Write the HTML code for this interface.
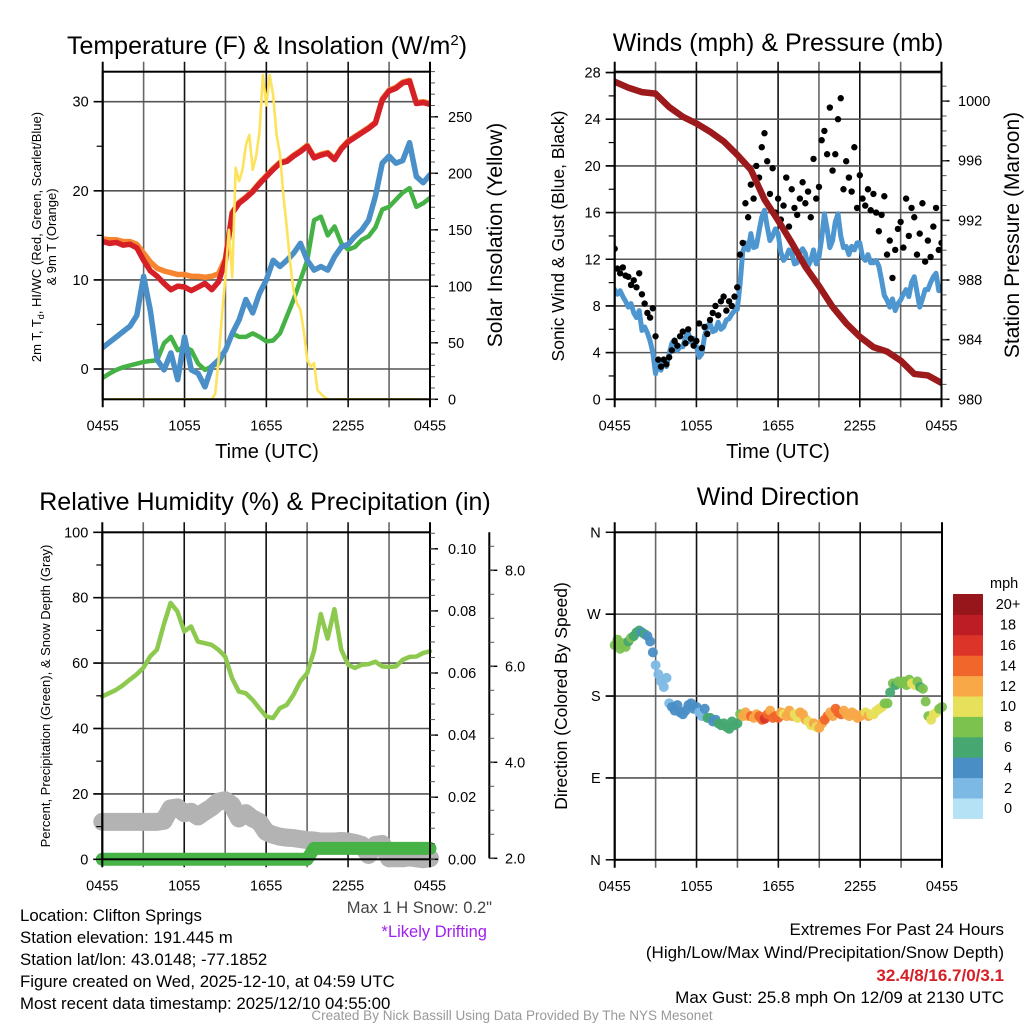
<!DOCTYPE html>
<html><head><meta charset="utf-8"><title>Mesonet Station Meteogram</title>
<style>
html,body{margin:0;padding:0;background:#fff;}
svg{display:block;font-family:"Liberation Sans",Arial,sans-serif;}
</style></head>
<body>
<svg id="chart" width="1024" height="1024" viewBox="0 0 1024 1024" xmlns="http://www.w3.org/2000/svg">
<rect x="0" y="0" width="1024" height="1024" fill="#fff"/>
<text x="267" y="54" font-size="25" text-anchor="middle">Temperature (F) &amp; Insolation (W/m<tspan dy="-9" font-size="15">2</tspan><tspan dy="9">)</tspan></text>
<text x="778" y="51" font-size="25" text-anchor="middle">Winds (mph) &amp; Pressure (mb)</text>
<text x="265" y="510" font-size="25" text-anchor="middle">Relative Humidity (%) &amp; Precipitation (in)</text>
<text x="778" y="505" font-size="25" text-anchor="middle">Wind Direction</text>

<text transform="translate(41,237) rotate(-90)" font-size="13" text-anchor="middle">2m T, T<tspan font-size="9" dy="3">d</tspan><tspan dy="-3">, HI/WC (Red, Green, Scarlet/Blue)</tspan></text>
<text transform="translate(56,237) rotate(-90)" font-size="13" text-anchor="middle">&amp; 9m T (Orange)</text>
<text transform="translate(502,235) rotate(-90)" font-size="21" text-anchor="middle">Solar Insolation (Yellow)</text>
<text transform="translate(564,236) rotate(-90)" font-size="17.5" text-anchor="middle">Sonic Wind &amp; Gust (Blue, Black)</text>
<text transform="translate(1019,235) rotate(-90)" font-size="21" text-anchor="middle">Station Pressure (Maroon)</text>
<text transform="translate(50,696) rotate(-90)" font-size="13" text-anchor="middle">Percent, Precipitation (Green), &amp; Snow Depth (Gray)</text>
<text transform="translate(567,696) rotate(-90)" font-size="17.5" text-anchor="middle">Direction (Colored By Speed)</text>

<text x="267" y="458" font-size="20" text-anchor="middle">Time (UTC)</text>
<text x="778" y="458" font-size="20" text-anchor="middle">Time (UTC)</text>

<text x="492" y="913" font-size="16.5" text-anchor="end" fill="#444">Max 1 H Snow: 0.2"</text>
<text x="487" y="937" font-size="16.5" text-anchor="end" fill="#a020f0">*Likely Drifting</text>

<g font-size="16.8" fill="#000">
<text x="20" y="921">Location: Clifton Springs</text>
<text x="20" y="943">Station elevation: 191.445 m</text>
<text x="20" y="965">Station lat/lon: 43.0148; -77.1852</text>
<text x="20" y="987">Figure created on Wed, 2025-12-10, at 04:59 UTC</text>
<text x="20" y="1009">Most recent data timestamp: 2025/12/10 04:55:00</text>
</g>
<g font-size="17" text-anchor="end">
<text x="1004" y="935">Extremes For Past 24 Hours</text>
<text x="1004" y="958">(High/Low/Max Wind/Precipitation/Snow Depth)</text>
<text x="1004" y="981" fill="#d42026" font-weight="bold">32.4/8/16.7/0/3.1</text>
<text x="1004" y="1003">Max Gust: 25.8 mph On 12/09 at 2130 UTC</text>
</g>
<text x="512" y="1020" font-size="13.5" text-anchor="middle" fill="#999">Created By Nick Bassill Using Data Provided By The NYS Mesonet</text>
</svg>
<script>
// ---------- data (hours after 0455 UTC) ----------
const xTickLabels = ["0455","1055","1655","2255","0455"];
const tempTicks = [0,10,20,30];
const solarTicks = [0,50,100,150,200,250];
const windTicks = [0,4,8,12,16,20,24,28];
const pressTicks = [980,984,988,992,996,1000];
const rhTicks = [0,20,40,60,80,100];
const precipTicks = [0.00,0.02,0.04,0.06,0.08,0.10];
const snowTicks = [2.0,4.0,6.0,8.0];
const dirTickLabels = ["N","E","S","W","N"];
const speedBinLabels = ["0","2","4","6","8","10","12","14","16","18","20+"];
const speedBinColors = ["#b6e2f6","#7cb9e4","#4a8ec6","#46a870","#7cc24f","#e7e05a","#f8a847","#f0662b","#dc3428","#bd1e25","#96161c"];

// temperature series, every 0.5 h
const temp2m = [14.3,14.1,14.2,13.9,14.0,13.6,12.2,11.0,10.4,9.6,8.9,9.3,9.2,8.8,9.2,9.6,8.9,9.8,12.2,17.5,18.6,19.2,19.9,20.8,21.6,22.4,23.1,23.3,23.9,24.4,25.0,23.7,24.0,24.2,23.5,24.7,25.5,26.0,26.5,27.0,27.6,30.2,31.2,31.5,32.1,32.3,29.8,29.9,29.7];
const temp9m = [14.6,14.5,14.5,14.3,14.3,14.0,13.0,12.0,11.3,11.0,10.8,10.6,10.6,10.4,10.4,10.3,10.4,10.7,12.4,17.6,18.7,19.3,20.0,20.9,21.7,22.5,23.2,23.4,24.0,24.5,25.1,23.8,24.1,24.3,23.6,24.8,25.6,26.1,26.6,27.1,27.7,30.3,31.3,31.6,32.2,32.4,29.9,30.0,29.8];
const dewpoint = [2.4,3.0,3.6,4.2,4.8,6.0,10.4,6.5,1.0,-0.1,1.8,-1.2,3.6,-0.1,-0.5,-2.0,0.3,1.0,2.1,4.0,5.5,7.8,6.3,8.5,10.0,12.2,11.5,12.2,13.0,14.1,12.2,11.1,11.5,11.1,12.6,13.7,14.0,14.9,15.6,16.7,19.4,23.1,23.9,23.1,23.4,25.4,21.6,20.9,21.8];
const windChill = [-1.0,-0.5,-0.1,0.2,0.4,0.6,0.8,0.9,1.0,2.9,3.6,2.1,2.5,2.1,0.6,-0.1,0.3,0.6,2.1,4.0,3.6,3.6,4.0,3.6,3.1,3.2,4.0,5.9,7.8,10.0,12.2,16.7,17.1,15.0,16.0,14.1,13.4,13.7,14.5,14.9,15.9,17.9,18.2,19.0,19.8,20.3,18.2,18.6,19.2];
// solar insolation, every 0.25 h
const solar = [0,0,0,0,0,0,0,0,0,0,0,0,0,0,0,0,0,0,0,0,0,0,0,0,0,0,0,0,0,0,0,0,
 0,5,35,75,108,150,108,205,193,203,225,234,203,215,237,287,260,287,269,234,217,180,152,120,96,85,79,60,35,29,32,8,5,2,
 0,0,0,0,0,0,0,0,0,0,0,0,0,0,0,0,0,0,0,0,0,0,0,0,0,0,0,0,0,0,0];
// pressure, hourly
const pressure = [1001.3,1000.9,1000.6,1000.5,999.6,998.95,998.5,997.95,997.3,996.4,995.4,993.4,992.0,990.5,988.9,987.6,986.2,985.1,984.2,983.5,983.2,982.6,981.7,981.6,981.1];
// sustained wind, every 0.2 h
const windSpeed = [9.4,9.0,9.3,8.8,8.4, 7.9,8.2,7.4,7.0,7.6, 5.9,6.2,5.7,5.0,4.0, 2.2,3.2,2.5,3.4,2.8, 3.9,4.8,5.1,4.2,4.5, 4.5,5.3,5.7,4.9,5.2, 4.5,3.6,3.9,5.4,6.3, 6.5,5.8,5.9,6.6,6.0, 6.2,6.8,6.9,7.3,7.6, 7.7,9.8,12.6,13.4,12.8, 14.2,13.0,13.1,14.4,15.6, 16.2,14.8,13.6,14.0,14.6, 14.2,12.6,11.9,12.2,12.8, 12.5,11.6,11.7,12.6,12.9, 12.5,11.4,11.9,12.8,11.6, 12.2,13.8,15.9,14.6,13.0, 13.6,15.2,15.9,14.0,13.0, 13.1,12.4,13.1,12.8,13.4, 13.4,12.2,11.9,12.4,11.7, 11.7,11.9,11.4,10.2,8.9, 8.5,7.9,8.6,7.6,8.2, 8.5,9.0,9.4,8.8,10.0, 10.5,9.2,7.9,8.6,9.4, 9.4,10.0,10.5,10.8,9.3, 9.7];
// gusts, every 0.2 h
const windGust = [12.9,11.2,10.8,11.3,10.6, 10.5,9.8,10.2,9.6,10.8, 9.0,8.2,7.4,7.0,7.8, 5.4,3.4,2.8,3.4,3.0, 3.6,4.2,5.0,4.6,5.4, 5.8,4.8,6.0,5.2,4.6, 5.0,6.5,4.4,6.2,5.6, 6.8,7.4,8.0,7.2,8.4, 8.8,7.6,8.4,8.0,8.8, 9.6,12.4,13.4,16.8,15.6, 18.4,17.2,20.0,19.0,21.6, 22.8,20.4,17.6,19.8,16.0, 17.2,15.4,16.6,19.0,14.8, 18.0,16.4,15.8,17.2,18.6, 16.8,17.8,15.6,20.6,17.2, 18.2,22.2,23.0,21.0,25.0, 19.6,21.0,24.0,25.8,18.0, 20.4,19.0,17.8,21.6,16.4, 19.2,17.2,16.6,18.0,16.2, 17.6,16.0,14.4,15.8,17.4, 12.4,13.6,10.4,12.8,14.6, 15.2,13.0,17.2,14.0,16.4, 15.6,12.4,14.2,16.8,11.8, 13.6,12.2,14.8,16.4,12.8, 13.4];
// wind direction (deg), every 0.2 h
const windDir = [236,242,232,238,234, 240,244,246,250,252, 250,248,246,240,228, 214,204,196,190,200, 172,168,164,170,162, 160,164,170,172,166, 168,162,158,166,156, 156,152,154,150,148, 150,146,144,152,148, 150,160,158,162,158, 158,156,160,158,154, 155,160,164,156,158, 156,162,160,158,164, 158,160,156,162,160, 154,152,148,150,146, 145,150,154,158,162, 158,166,162,160,164, 160,158,162,160,156, 158,160,162,158,160, 160,164,166,168,172, 172,184,194,192,196, 194,196,192,198,194, 192,196,190,188,174, 158,154,160,162,166, 168];
// humidity / snow / precip, every 0.5 h
const relHum = [49.8,50.8,51.8,53.2,54.9,56.5,58.5,62.0,64.1,71.7,78.4,75.8,69.7,71.2,66.6,66.1,65.6,64.1,62.0,55.4,51.3,50.8,48.8,46.2,43.7,43.2,46.2,47.2,50.3,54.4,56.9,63.6,75.0,67.5,76.5,64.1,59.5,58.5,59.5,59.7,60.4,59.0,58.8,59.0,61.0,61.9,62.0,63.1,63.6];
const snowDepth = [2.76,2.76,2.76,2.76,2.76,2.76,2.76,2.76,2.76,2.78,3.04,3.06,2.94,2.97,2.87,2.97,3.06,3.18,3.21,3.11,2.83,2.94,2.83,2.76,2.55,2.49,2.45,2.43,2.42,2.40,2.38,2.37,2.35,2.35,2.35,2.36,2.35,2.32,2.28,2.07,2.28,2.30,2.00,2.00,2.00,2.02,2.00,1.98,2.00];
const precip = [0,0,0,0,0,0,0,0,0,0,0,0,0,0,0,0,0,0,0,0,0,0,0,0,0,0,0,0,0,0,0,0.0035,0.0035,0.0035,0.0035,0.0035,0.0035,0.0035,0.0035,0.0035,0.0035,0.0035,0.0035,0.0035,0.0035,0.0035,0.0035,0.0035,0.0035];

// ---------- helpers ----------
const NS = "http://www.w3.org/2000/svg";
const svg = document.getElementById("chart");
function el(tag, attrs, parent) {
  const e = document.createElementNS(NS, tag);
  for (const k in attrs) e.setAttribute(k, attrs[k]);
  (parent || svg).appendChild(e);
  return e;
}
function txt(s, attrs, parent) { const e = el("text", attrs, parent); e.textContent = s; return e; }

const P1 = {x0:102.7, x1:430, y0:71.7, y1:399.3};
const P2 = {x0:614.7, x1:941.5, y0:71.7, y1:399.3};
const P3 = {x0:102.3, x1:430, y0:532.3, y1:859.3};
const P4 = {x0:614.7, x1:942, y0:532.3, y1:859.8};
function xs(P, t) { return P.x0 + t * (P.x1 - P.x0) / 24; }
const yTemp = v => 369 - v * 8.91;
const ySolar = v => 399.3 - v * 1.13;
const yWind = v => 399.3 - v * 11.67;
const yPress = p => 399.3 - (p - 980) * 14.91;
const yRH = v => 859.3 - v * 3.27;
const yPrecip = v => 859.3 - v * 3105;
const ySnow = s => 858.3 - (s - 2) * 48;
const yDir = d => 859.8 - d * (859.8 - 532.3) / 360;

function grid(P, name, hVals, yf, gridOn) {
  const g = el("g", {});
  
  
  for (let i = 1; i < 8; i++) {
    const x = P.x0 + i * (P.x1 - P.x0) / 8;
    const l = el("line", {x1:x, x2:x, y1:P.y0 - 10, y2:P.y1 + 8, stroke:(i % 2 ? "#666" : "#111"), "stroke-width":1.6}, g);
    
    
  }
  if (gridOn) hVals.forEach(v => {
    const y = yf(v);
    const l = el("line", {x1:P.x0 - 9, x2:P.x1, y1:y, y2:y, stroke:"#555", "stroke-width":1.6}, g);
    
    
  });
  return g;
}
function frame(P, name) {
  const r = el("rect", {x:P.x0, y:P.y0, width:P.x1 - P.x0, height:P.y1 - P.y0, fill:"none", stroke:"#000", "stroke-width":2});
  
  
  for (let i = 0; i <= 8; i += 8) {
    const x = P.x0 + i * (P.x1 - P.x0) / 8;
    const l = el("line", {x1:x, x2:x, y1:P.y0 - 10, y2:P.y1 + 8, stroke:"#000", "stroke-width":2});
    
    
  }
  xTickLabels.forEach((s, i) => {
    const t = txt(s, {x:xs(P, i * 6), y:P.y1 + 31, "font-size":14.5, "text-anchor":"middle"});
    
    
  });
}
function leftTicks(P, name, vals, yf, labels, minorStep) {
  vals.forEach((v, i) => {
    const y = yf(v);
    const l = el("line", {x1:P.x0 - 9, x2:P.x0, y1:y, y2:y, stroke:"#000", "stroke-width":1.5});
    
    
    const t = txt(labels ? labels[i] : String(v), {x:P.x0 - 14, y:y + 5, "font-size":14.5, "text-anchor":"end"});
    
    
    if (minorStep && i < vals.length - 1) {
      const ym = yf(v + minorStep);
      const m = el("line", {x1:P.x0 - 6, x2:P.x0, y1:ym, y2:ym, stroke:"#000", "stroke-width":1.2});
      
      
    }
  });
}
function rightTicks(ax, name, vals, yf, fmt, minorStep, lo, hi, labelX) {
  vals.forEach(v => {
    const y = yf(v);
    const l = el("line", {x1:ax, x2:ax + 8, y1:y, y2:y, stroke:"#000", "stroke-width":1.5});
    
    
    const t = txt(fmt(v), {x:labelX, y:y + 5, "font-size":14.5});
    
    
  });
  for (let v = lo; v <= hi + 1e-9; v += minorStep) {
    const y = yf(v);
    const m = el("line", {x1:ax, x2:ax + 5, y1:y, y2:y, stroke:"#555", "stroke-width":1});
    
    
  }
}
function path(P, values, step, yf, color, width, name, parent) {
  let d = "";
  values.forEach((v, i) => { d += (i ? "L" : "M") + xs(P, i * step).toFixed(2) + "," + yf(v).toFixed(2); });
  const p = el("path", {d:d, fill:"none", stroke:color, "stroke-width":width, "stroke-linejoin":"round", "stroke-linecap":"round"}, parent);
  
  
  return p;
}
function clip(P, id) {
  const c = el("clipPath", {id:id});
  el("rect", {x:P.x0, y:P.y0, width:P.x1 - P.x0, height:P.y1 - P.y0}, c);
  return "url(#" + id + ")";
}

// ---------- Panel 1: temperature ----------
grid(P1, "temp", tempTicks, yTemp, true);
rightTicks(P1.x1, "solar-axis", solarTicks, ySolar, v => String(v), 10, 0, 290, 448);
const g1 = el("g", {"clip-path":clip(P1, "c1")});


path(P1, temp9m, 0.5, yTemp, "#f7852f", 5.5, "temp-9m-line", g1);
path(P1, temp2m, 0.5, yTemp, "#d42026", 5.5, "temp-2m-line", g1);
path(P1, windChill, 0.5, yTemp, "#45b245", 4.5, "heat-index-wind-chill-line", g1);
path(P1, dewpoint, 0.5, yTemp, "#4a8fc8", 5.5, "dewpoint-line", g1);
path(P1, solar, 0.25, ySolar, "#fde35c", 2.6, "solar-insolation-line", g1);
frame(P1, "temp");
leftTicks(P1, "temp", tempTicks, yTemp, null, 5);

// ---------- Panel 2: winds ----------
grid(P2, "wind", windTicks, yWind, true);
rightTicks(P2.x1, "pressure-axis", pressTicks, yPress, v => String(v), 1, 980, 1001, 958);
const g2 = el("g", {"clip-path":clip(P2, "c2")});


path(P2, windSpeed, 0.2, yWind, "#4d96d0", 5, "sustained-wind-line", g2);
windGust.forEach((v, i) => {
  const c = el("circle", {cx:xs(P2, i * 0.2), cy:yWind(v), r:3.2, fill:"#000"}, g2);
  
  
});
path(P2, pressure, 1, yPress, "#9c1a1c", 6.5, "pressure-line", g2);
frame(P2, "wind");
leftTicks(P2, "wind", windTicks, yWind, null, 2);

// ---------- Panel 3: humidity ----------
grid(P3, "rh", rhTicks, yRH, true);
const g3 = el("g", {});


path(P3, snowDepth, 0.5, ySnow, "#b3b3b3", 18, "snow-depth-line", g3);
path(P3, precip, 0.5, yPrecip, "#47b347", 13, "precipitation-line", g3);
path(P3, relHum, 0.5, yRH, "#8dc94e", 4.5, "relative-humidity-line", g3);
frame(P3, "rh");
leftTicks(P3, "rh", rhTicks, yRH, null, 10);
rightTicks(P3.x1, "precip-axis", precipTicks, yPrecip, v => v.toFixed(2), 0.005, 0, 0.105, 448);
const snowAx = el("line", {x1:489.3, x2:489.3, y1:532.3, y2:858.3, stroke:"#000", "stroke-width":2});


rightTicks(489.3, "snow-axis", snowTicks, ySnow, v => v.toFixed(1), 0.5, 2, 8.5, 505);

// ---------- Panel 4: direction ----------
grid(P4, "direction", [90, 180, 270], yDir, true);
const g4 = el("g", {});


windDir.forEach((d, i) => {
  const s = windSpeed[i];
  const bin = Math.min(10, Math.max(0, Math.floor(s / 2)));
  const c = el("circle", {cx:xs(P4, i * 0.2), cy:yDir(d), r:5, fill:speedBinColors[bin], "fill-opacity":0.95}, g4);
  
  
});
frame(P4, "direction");
leftTicks(P4, "direction", [0, 90, 180, 270, 360], yDir, dirTickLabels, null);

// colorbar
const cb = el("g", {});


const cbTop = 594, cbH = 20.4;
const mph = txt("mph", {x:990, y:588, "font-size":14.5}, cb);


speedBinLabels.forEach((s, i) => {
  const k = speedBinLabels.length - 1 - i;
  const y = cbTop + k * cbH;
  const r = el("rect", {x:953, y:y, width:30, height:cbH + 0.5, fill:speedBinColors[i]}, cb);
  
  
  const t = txt(s, {x:1008, y:y + cbH / 2 + 5, "font-size":14.5, "text-anchor":"middle"}, cb);
  
  
});
</script>
</body></html>
